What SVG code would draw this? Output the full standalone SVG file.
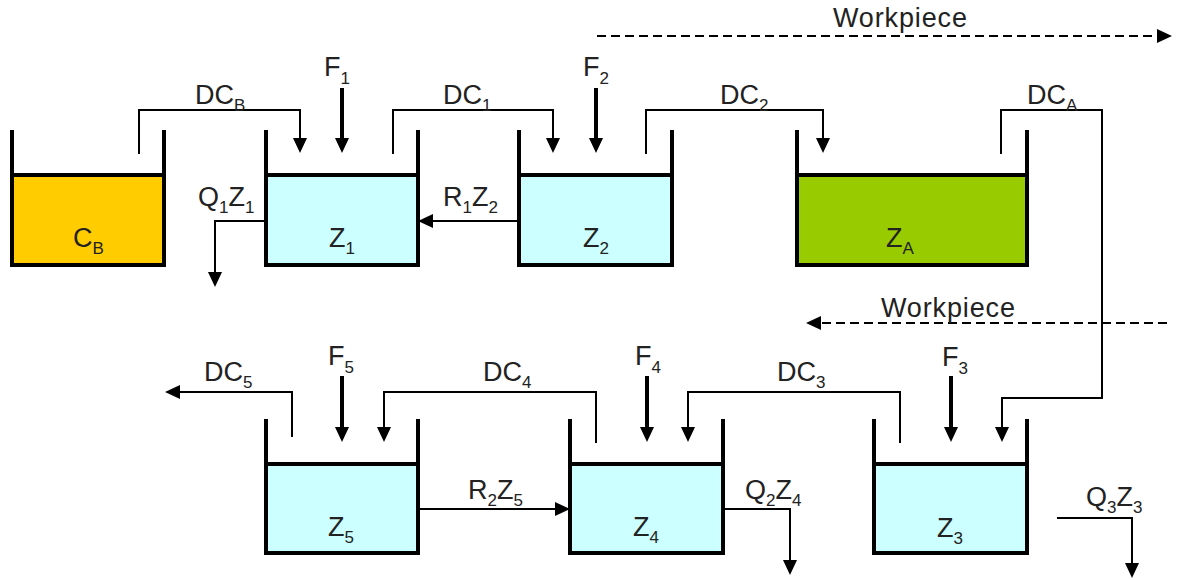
<svg xmlns="http://www.w3.org/2000/svg" width="1181" height="580" viewBox="0 0 1181 580">
<style>
.tank{fill:none;stroke:#000;stroke-width:4;stroke-linecap:square}
.cb{fill:#FFCC00}.za{fill:#99CC00}.zz{fill:#CCFFFF}
.c{fill:none;stroke:#000;stroke-width:2}
.f{fill:none;stroke:#000;stroke-width:4}
.d{fill:none;stroke:#000;stroke-width:2;stroke-dasharray:9 5}
text{font-family:"Liberation Sans",Arial,sans-serif;font-size:27px;fill:#222}
.s{font-size:17px}
</style>
<defs>
<marker id="ah" viewBox="0 0 15 14" refX="10" refY="7" markerWidth="15" markerHeight="14" markerUnits="userSpaceOnUse" orient="auto">
<path d="M0,0 L15,7 L0,14 z" fill="#000"/>
</marker>
</defs>
<rect width="1181" height="580" fill="#fff"/>

<g id="tank-cb">
<rect class="cb" x="12" y="175" width="152" height="90"/>
<path class="tank" d="M12,132 V265 H164 V132 M12,175 H164"/>
<text x="73" y="247">C<tspan class="s" dy="7">B</tspan></text>
</g>
<g id="tank-z1">
<rect class="zz" x="266" y="175" width="152" height="90"/>
<path class="tank" d="M266,132 V265 H418 V132 M266,175 H418"/>
<text x="329" y="247">Z<tspan class="s" dy="7">1</tspan></text>
</g>
<g id="tank-z2">
<rect class="zz" x="519" y="175" width="153" height="90"/>
<path class="tank" d="M519,132 V265 H672 V132 M519,175 H672"/>
<text x="583" y="247">Z<tspan class="s" dy="7">2</tspan></text>
</g>
<g id="tank-za">
<rect class="za" x="797" y="175" width="230" height="90"/>
<path class="tank" d="M797,132 V265 H1027 V132 M797,175 H1027"/>
<text x="886" y="247">Z<tspan class="s" dy="7">A</tspan></text>
</g>
<g id="tank-z5">
<rect class="zz" x="266" y="464" width="152" height="89"/>
<path class="tank" d="M266,421 V553 H418 V421 M266,464 H418"/>
<text x="328" y="536">Z<tspan class="s" dy="7">5</tspan></text>
</g>
<g id="tank-z4">
<rect class="zz" x="570" y="464" width="153" height="89"/>
<path class="tank" d="M570,421 V553 H723 V421 M570,464 H723"/>
<text x="633" y="536">Z<tspan class="s" dy="7">4</tspan></text>
</g>
<g id="tank-z3">
<rect class="zz" x="874" y="464" width="153" height="89"/>
<path class="tank" d="M874,421 V553 H1027 V421 M874,464 H1027"/>
<text x="937" y="537">Z<tspan class="s" dy="7">3</tspan></text>
</g>

<g id="connectors">
<path class="c" d="M139,154 V110 H300 V148" marker-end="url(#ah)"/>
<path class="f" d="M342,88 V148" marker-end="url(#ah)"/>
<path class="c" d="M393,154 V110 H553 V148" marker-end="url(#ah)"/>
<path class="f" d="M596,88 V148" marker-end="url(#ah)"/>
<path class="c" d="M646,154 V110 H823 V148" marker-end="url(#ah)"/>
<path class="c" d="M1001,154 V110 H1102 V398 H1002 V437" marker-end="url(#ah)"/>
<path class="c" d="M266,221 H215 V282" marker-end="url(#ah)"/>
<path class="c" d="M519,221 H423" marker-end="url(#ah)"/>
<path class="d" d="M597,36 H1167" marker-end="url(#ah)"/>
<path class="d" d="M1167,323 H811" marker-end="url(#ah)"/>
<path class="c" d="M292,437 V392 H170" marker-end="url(#ah)"/>
<path class="f" d="M342,376 V437" marker-end="url(#ah)"/>
<path class="c" d="M596,443 V392 H384 V437" marker-end="url(#ah)"/>
<path class="f" d="M647,376 V437" marker-end="url(#ah)"/>
<path class="c" d="M900,443 V392 H688 V437" marker-end="url(#ah)"/>
<path class="f" d="M951,376 V437" marker-end="url(#ah)"/>
<path class="c" d="M418,509 H565" marker-end="url(#ah)"/>
<path class="c" d="M723,509 H790 V570" marker-end="url(#ah)"/>
<path class="c" d="M1057,518 H1132 V573" marker-end="url(#ah)"/>
</g>

<g id="labels">
<text x="833" y="27" textLength="134">Workpiece</text>
<text x="881" y="317" textLength="134">Workpiece</text>
<text x="195" y="104">DC<tspan class="s" dy="7">B</tspan></text>
<text x="324" y="76">F<tspan class="s" dy="8">1</tspan></text>
<text x="443" y="104">DC<tspan class="s" dy="7">1</tspan></text>
<text x="583" y="76">F<tspan class="s" dy="8">2</tspan></text>
<text x="720" y="104">DC<tspan class="s" dy="7">2</tspan></text>
<text x="1027" y="104">DC<tspan class="s" dy="7">A</tspan></text>
<text x="198" y="206">Q<tspan class="s" dy="7">1</tspan><tspan dy="-7">Z</tspan><tspan class="s" dy="7">1</tspan></text>
<text x="443" y="206">R<tspan class="s" dy="7">1</tspan><tspan dy="-7">Z</tspan><tspan class="s" dy="7">2</tspan></text>
<text x="204" y="381">DC<tspan class="s" dy="7">5</tspan></text>
<text x="328" y="365">F<tspan class="s" dy="8">5</tspan></text>
<text x="483" y="381">DC<tspan class="s" dy="7">4</tspan></text>
<text x="635" y="365">F<tspan class="s" dy="8">4</tspan></text>
<text x="777" y="381">DC<tspan class="s" dy="7">3</tspan></text>
<text x="942" y="366">F<tspan class="s" dy="8">3</tspan></text>
<text x="468" y="499">R<tspan class="s" dy="7">2</tspan><tspan dy="-7">Z</tspan><tspan class="s" dy="7">5</tspan></text>
<text x="745" y="499">Q<tspan class="s" dy="7">2</tspan><tspan dy="-7">Z</tspan><tspan class="s" dy="7">4</tspan></text>
<text x="1086" y="506">Q<tspan class="s" dy="7">3</tspan><tspan dy="-7">Z</tspan><tspan class="s" dy="7">3</tspan></text>
</g>
</svg>
